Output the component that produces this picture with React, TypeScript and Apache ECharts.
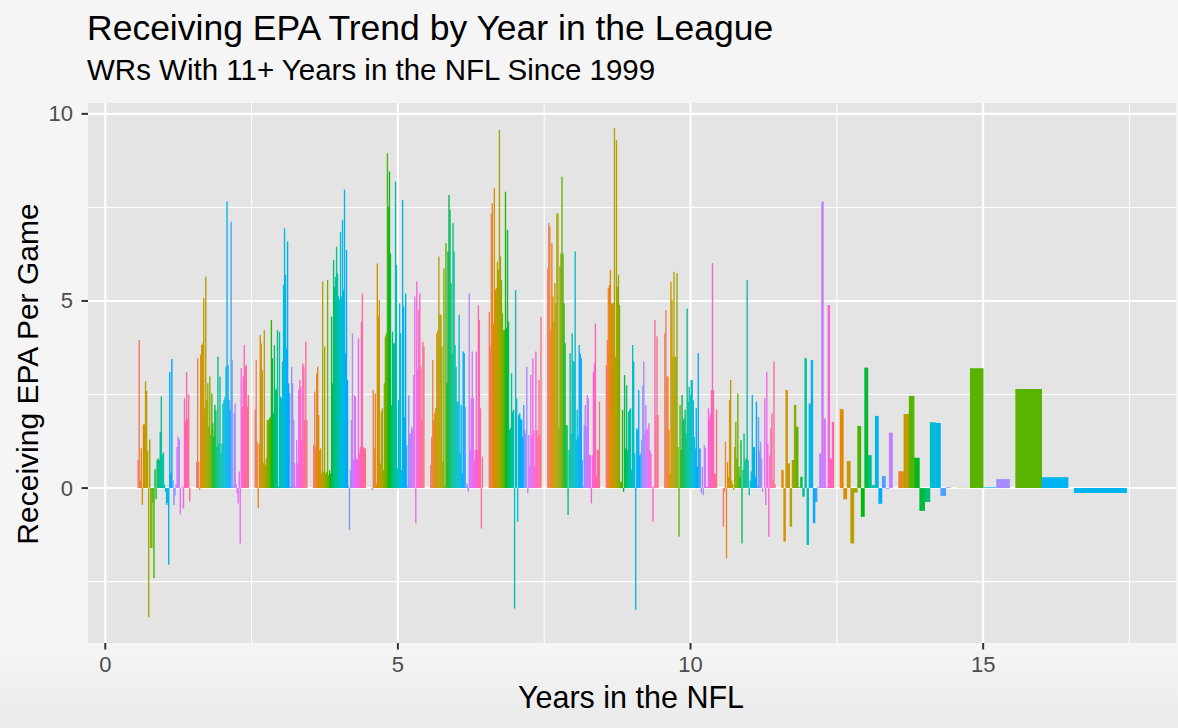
import React, { useEffect, useRef } from "react";
import * as echarts from "echarts";

const TITLE = "Receiving EPA Trend by Year in the League";
const SUBTITLE = "WRs With 11+ Years in the NFL Since 1999";
const X_TITLE = "Years in the NFL";
const Y_TITLE = "Receiving EPA Per Game";

const X_TICKS = [0, 5, 10, 15];
const Y_TICKS = [0, 5, 10];
const X_MINOR = [2.5, 7.5, 12.5, 17.5];
const Y_MINOR = [-2.5, 2.5, 7.5];

// Receiving EPA per game, one value per player, in player order, for each year in the league
const YEAR_1 = [0.75, 3.96, 0.2, 1.06, -0.45, 1.7, 1.7, 2.85, 2.6, 1.0, -3.45, 1.3, -1.6, -1.6, -0.4, -2.4, 0.5, -0.3, 0.75, 0.8, 0.75, 1.5, 2.45, 0.9, 0.95, 0.1, -0.1, -0.45, -0.4, -2.05, 3.1, 0.4, 3.45, 0.2, -0.45, -0.2, 0.1, 1.1, 1.37, 1.3, -0.7, 0.0, 0.05, -0.55, 2.4, 1.8, 3.1, 1.85, 2.5, -0.35];
const YEAR_2 = [0.7, 3.47, 0.7, -0.05, 3.56, 3.82, 3.87, 5.07, 2.13, 5.65, 2.35, 2.8, 1.64, 2.98, 1.42, 2.53, 1.73, 1.37, 2.22, 2.08, 1.1, 3.51, 1.19, 2.98, 0.93, 1.19, 2.26, 2.35, 2.44, 3.24, 7.66, 3.29, 2.35, 2.08, 7.12, 3.42, 0.04, 2.0, 2.26, 0.1, -0.14, -0.41, 0.44, -1.48, 3.2, 2.17, 2.98, 3.82, 3.24, 3.29, 2.17, 2.49];
const YEAR_3 = [2.09, 3.42, 1.24, -0.54, 1.19, 4.09, 3.87, 3.16, 0.66, 4.22, 0.62, 0.79, 1.82, 1.82, 1.86, 1.9, 4.49, 3.47, 2.0, 3.82, 2.62, 2.66, 4.22, 0.04, 4.18, 2.44, 2.4, 3.38, 5.43, 6.94, 5.7, 3.73, 6.59, 2.8, 2.53, 0.03, 3.24, 2.8, 1.82, 0.66, 0.04, 1.28, 0.66, 2.62, 2.89, 2.71, 1.28, 3.33, 3.24, 1.82, 3.91, 1.82];
const YEAR_4 = [1.15, 2.58, 1.1, 3.07, 3.24, 1.95, 1.02, 1.06, 0.39, 5.52, 0.44, 3.78, 0.39, 0.44, 5.56, 0.35, 0.48, 0.39, 4.58, 2.8, 6.1, 5.38, 5.65, 6.45, 5.74, 5.12, 5.03, 6.85, 5.12, 7.17, 5.29, 7.97, 3.6, 6.36, 2.89, 0.04, -1.12, 0.48, 1.82, 4.14, 0.75, 2.49, 2.44, 0.79, 0.75, 4.0, 0.93, 1.1, 4.45, 5.2, 1.1, 1.06, 1.06];
const YEAR_5 = [-0.05, 2.62, 1.06, 2.53, 0.12, 6.0, 4.58, 5.03, 0.66, 2.04, 2.13, 0.48, 2.8, 4.05, 4.14, 8.95, 7.52, 8.46, 6.27, 2.22, 4.18, 3.87, 3.87, 8.19, 5.96, 0.53, 2.35, 4.94, 4.14, 0.48, 7.7, 4.85, 1.9, 5.2, 1.15, 0.04, 2.49, 1.46, 1.46, 1.64, 1.55, 3.02, 5.12, -0.94, 5.52, 3.16, 4.76, 5.2, 3.24, 1.82, 3.91, 3.78];
const YEAR_6 = [0.62, 1.37, 3.42, 1.82, 2.0, 2.13, 4.14, 4.22, 6.19, 4.63, 4.63, 3.78, 0.7, 5.87, 0.04, 6.54, 2.8, 6.32, 7.83, 7.43, 5.47, 3.6, 7.08, 6.32, 3.82, 3.24, 2.31, 2.31, 4.63, 0.93, 2.22, 0.39, 3.65, 3.6, 2.17, 0.03, 0.12, -0.1, 5.2, 1.02, 2.4, 3.65, 2.4, 0.75, 1.02, 3.65, 1.02, 4.89, 4.49, 2.13, -1.08, 0.84];
const YEAR_7 = [4.71, 3.78, 7.34, 7.61, 4.4, 8.01, 5.29, 5.34, 6.05, 5.83, 9.57, 6.19, 5.56, 4.67, 4.22, 4.22, 7.92, 4.27, 6.9, 4.45, 1.55, 1.6, 3.07, 2.04, 2.09, -3.22, 5.29, 2.4, -0.9, 1.95, 2.0, 1.86, 1.82, 1.37, 2.22, 1.55, 1.46, 3.24, -0.14, 1.42, 0.57, 3.02, 1.37, 3.47, 1.55, 0.57, 3.65, 1.55, 1.37, 2.89, 1.42, 4.58];
const YEAR_8 = [5.87, 7.08, 6.99, 4.22, 6.54, 5.12, 4.45, 5.47, 4.94, 7.34, 7.34, 1.6, 5.92, 6.27, 8.32, 6.27, 4.94, 3.87, 1.68, 1.68, -0.72, 1.02, 3.6, 1.46, 4.14, 3.38, 3.38, 6.32, 1.28, 2.09, 1.37, 3.82, 3.6, 3.47, 0.75, 0.04, 1.68, 2.22, 1.64, 2.49, 2.4, 0.88, 0.88, -0.41, 0.88, 3.11, 3.33, 4.4, 0.3, 1.02, 1.02, 2.31];
const YEAR_9 = [3.29, 3.96, 5.34, 5.43, 5.83, 4.94, 4.94, 4.94, 9.62, 3.51, 9.3, 5.38, 5.7, 4.89, 0.17, 0.17, 2.09, -0.1, 3.02, 1.06, 2.75, 1.02, 2.04, 2.09, 2.13, 0.48, 3.82, 3.38, 0.93, -3.26, 1.6, 1.55, 2.62, 0.88, 0.93, 1.28, 2.75, 3.38, 1.46, 2.22, 1.55, 1.6, 1.73, 1.02, 0.93, 0.04, -0.9, 0.04, 4.49, 1.95, 4.05, 1.95];
const YEAR_10 = [4.14, 4.76, 2.98, 2.98, 1.55, 0.39, 5.52, 5.03, 3.51, 5.78, 3.51, 3.51, 5.74, 1.1, -1.3, 2.22, 1.02, 2.49, 1.82, 1.86, 2.09, 1.46, 4.8, 2.31, 2.71, 2.49, 2.89, 2.89, 2.35, 1.37, 1.06, 2.13, 0.57, 3.6, 1.06, 1.06, -0.14, 0.57, -0.19, 1.15, 1.06, 0.04, 0.04, 2.13, 1.86, 2.0, 2.62, 6.01, 2.62, 0.39, 0.39, 2.09];
const YEAR_11 = [-1.03, -0.1, 1.24, -1.88, 0.7, 0.3, 2.35, 2.89, 0.2, 0.1, -0.05, 1.1, 1.77, 0.8, 2.53, 0.57, 0.3, 1.28, -1.48, 0.48, 1.46, 0.75, 0.79, 5.56, 0.75, -0.19, 0.2, 0.44, 2.49, 1.1, 1.1, 0.3, 2.31, 0.04, 1.9, 1.0, 1.24, 0.79, -0.1, 0.0, 2.4, -0.45, 3.11, 1.19, -1.3, 0.88, 1.6, 2.0, 0.2, 3.38, 0.1];
const YEAR_12 = [0.48, -1.43, 2.62, 0.66, -1.03, 0.75, 2.22, 1.64, 0.02, 0.3, -0.23, 3.47, -1.52, 2.26, 3.42, -0.94, -0.37, 0.02, 0.93, 7.66, 1.86, 0.02, 4.89, 0.79, 1.77];
const YEAR_13 = [2.11, -0.3, 0.72, -1.48, -0.12, 1.66, -0.77, 3.22, 0.88, 0.08, 1.93, -0.42, 0.32, -0.02, 1.48];
const YEAR_14 = [0.45, 1.98, 2.46, 0.81, -0.61, -0.37, 1.76, 1.74, -0.21, 0.02];
const YEAR_15 = [0.01, 3.2, 0.02, 0.24];
const YEAR_16 = [2.65, 0.29];
const YEAR_17 = [-0.13];

// player hues (ggplot hue palette) for the sparse late years
const HUE_12 = [45, 52, 60, 68, 75, 85, 100, 115, 125, 140, 160, 175, 195, 212, 225, 238, 250, 262, 275, 285, 295, 310, 325, 340, 350];
const HUE_13 = [40, 50, 65, 75, 90, 120, 128, 135, 160, 175, 222, 235, 252, 265, 280];
const HUE_14 = [35, 70, 117, 130, 135, 155, 200, 222, 252, 270];
const HUE_15 = [70, 116, 225, 272];
const HUE_16 = [116, 226];
const HUE_17 = [226];

const YEAR_VALUES = [YEAR_1, YEAR_2, YEAR_3, YEAR_4, YEAR_5, YEAR_6, YEAR_7, YEAR_8, YEAR_9, YEAR_10, YEAR_11, YEAR_12, YEAR_13, YEAR_14, YEAR_15, YEAR_16, YEAR_17];
const YEAR_HUES: (number[] | null)[] = [null, null, null, null, null, null, null, null, null, null, null, HUE_12, HUE_13, HUE_14, HUE_15, HUE_16, HUE_17];

function hcl(h: number, c = 100, l = 65): string {
  const hr = (h * Math.PI) / 180;
  const U = c * Math.cos(hr);
  const V = c * Math.sin(hr);
  const Xn = 95.047, Yn = 100, Zn = 108.883;
  const den = Xn + 15 * Yn + 3 * Zn;
  const un = (4 * Xn) / den, vn = (9 * Yn) / den;
  const Y = l > 8 ? Yn * Math.pow((l + 16) / 116, 3) : (Yn * l) / 903.3;
  const u = U / (13 * l) + un;
  const v = V / (13 * l) + vn;
  const X = (9 * Y * u) / (4 * v);
  const Z = ((9 * Y) / v - X - 15 * Y) / 3;
  const x = X / 100, y = Y / 100, z = Z / 100;
  const lin = [
    3.2404542 * x - 1.5371385 * y - 0.4985314 * z,
    -0.969266 * x + 1.8760108 * y + 0.041556 * z,
    0.0556434 * x - 0.2040259 * y + 1.0572252 * z,
  ];
  const out = lin.map((c0) => {
    const g = c0 <= 0.0031308 ? 12.92 * c0 : 1.055 * Math.pow(c0, 1 / 2.4) - 0.055;
    return Math.round(Math.max(0, Math.min(1, g)) * 255);
  });
  return `rgb(${out[0]},${out[1]},${out[2]})`;
}

const FONT = '"Liberation Sans", Arial, Helvetica, sans-serif';

export default function App() {
  const ref = useRef<HTMLDivElement>(null);
  useEffect(() => {
    document.body.style.margin = "0";
    const chart = echarts.init(ref.current!, null, { renderer: "svg" });

    const barData: number[][] = [];
    YEAR_VALUES.forEach((vals, k) => {
      const hues = YEAR_HUES[k];
      vals.forEach((v, i) => {
        const hue = hues ? hues[i] : 15 + (360 * i) / vals.length;
        barData.push([k + 1, i, vals.length, v, hue]);
      });
    });

    // kind: 0 vertical grid line, 1 horizontal grid line, 2 x tick, 3 y tick
    const gridData: number[][] = [
      ...X_MINOR.map((v) => [0, v, 0]),
      ...Y_MINOR.map((v) => [1, v, 0]),
      ...X_TICKS.map((v) => [0, v, 1]),
      ...Y_TICKS.map((v) => [1, v, 1]),
      ...X_TICKS.map((v) => [2, v, 1]),
      ...Y_TICKS.map((v) => [3, v, 1]),
    ];

    const option: any = {
      animation: false,
      backgroundColor: "#F5F5F5",
      textStyle: { fontFamily: FONT },
      grid: {
        left: 88,
        right: 2,
        top: 103,
        bottom: 85,
        show: true,
        backgroundColor: "#E4E4E4",
        borderWidth: 0,
      },
      xAxis: {
        type: "value",
        min: -0.295,
        max: 18.295,
        splitLine: { show: false },
        axisLine: { show: false, onZero: false },
        axisTick: { show: false },
        axisLabel: { customValues: X_TICKS, color: "#4D4D4D", fontSize: 22, margin: 10, fontFamily: FONT },
      },
      yAxis: {
        type: "value",
        min: -4.14,
        max: 10.29,
        splitLine: { show: false },
        axisLine: { show: false, onZero: false },
        axisTick: { show: false },
        axisLabel: { customValues: Y_TICKS, color: "#4D4D4D", fontSize: 22, margin: 15, fontFamily: FONT },
      },
      graphic: [
        {
          type: "rect",
          z: -10,
          shape: { x: 0, y: 648, width: 1178, height: 80 },
          style: {
            fill: new echarts.graphic.LinearGradient(0, 0, 0, 1, [
              { offset: 0, color: "rgba(0,0,0,0)" },
              { offset: 1, color: "rgba(0,0,0,0.045)" },
            ]),
          },
          silent: true,
        },
        {
          type: "text",
          x: 87,
          y: 27.5,
          style: { text: TITLE, font: `35.5px ${FONT}`, fill: "#000000", align: "left", verticalAlign: "middle" },
        },
        {
          type: "text",
          x: 87,
          y: 69,
          style: { text: SUBTITLE, font: `29.5px ${FONT}`, fill: "#000000", align: "left", verticalAlign: "middle" },
        },
        {
          type: "text",
          x: 631,
          y: 697,
          style: { text: X_TITLE, font: `30.5px ${FONT}`, fill: "#000000", align: "center", verticalAlign: "middle" },
        },
        {
          type: "text",
          x: 27,
          y: 374,
          rotation: Math.PI / 2,
          style: { text: Y_TITLE, font: `30px ${FONT}`, fill: "#000000", align: "center", verticalAlign: "middle" },
        },
      ],
      series: [
        {
          type: "custom",
          z: 1,
          silent: true,
          clip: false,
          data: gridData,
          renderItem: (params: any, api: any) => {
            const kind = api.value(0);
            const v = api.value(1);
            const major = api.value(2);
            const cs = params.coordSys;
            const lw = major ? 2.1 : 1.05;
            if (kind === 0) {
              const x = api.coord([v, 0])[0];
              return { type: "line", shape: { x1: x, y1: cs.y, x2: x, y2: cs.y + cs.height }, style: { stroke: "#FFFFFF", lineWidth: lw } };
            }
            if (kind === 1) {
              const y = api.coord([0, v])[1];
              return { type: "line", shape: { x1: cs.x, y1: y, x2: cs.x + cs.width, y2: y }, style: { stroke: "#FFFFFF", lineWidth: lw } };
            }
            if (kind === 2) {
              const x = api.coord([v, 0])[0];
              const yb = cs.y + cs.height;
              return { type: "line", shape: { x1: x, y1: yb, x2: x, y2: yb + 6.5 }, style: { stroke: "#333333", lineWidth: 2 } };
            }
            const y = api.coord([0, v])[1];
            return { type: "line", shape: { x1: cs.x - 6.5, y1: y, x2: cs.x, y2: y }, style: { stroke: "#333333", lineWidth: 2 } };
          },
        },
        {
          type: "custom",
          z: 2,
          silent: true,
          encode: { x: 0, y: 3 },
          data: barData,
          renderItem: (params: any, api: any) => {
            const year = api.value(0);
            const pos = api.value(1);
            const n = api.value(2);
            const val = api.value(3);
            const hue = api.value(4);
            const w = 0.9 / n;
            const x0 = year - 0.45 + pos * w;
            const a = api.coord([x0, val]);
            const b = api.coord([x0 + w, 0]);
            return {
              type: "rect",
              shape: {
                x: a[0],
                y: Math.min(a[1], b[1]),
                width: b[0] - a[0] + 0.35,
                height: Math.abs(b[1] - a[1]),
              },
              style: { fill: hcl(hue) },
            };
          },
        },
      ],
    };

    chart.setOption(option);
    return () => chart.dispose();
  }, []);
  return <div ref={ref} style={{ width: 1178, height: 728 }} />;
}
